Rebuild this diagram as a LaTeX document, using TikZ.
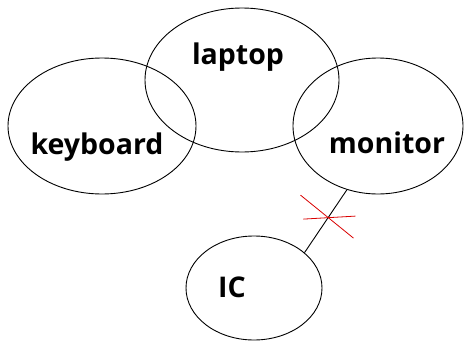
\documentclass[tikz,border=0pt]{standalone}
\usepackage{fontspec}
\setmainfont{Open Sans}
\usetikzlibrary{shapes.geometric,calc}
\begin{document}
\begin{tikzpicture}[x=1pt,y=-1pt,
  ent/.style={draw=black,line width=0.9pt,ellipse,inner sep=0pt},
  lbl/.style={font=\fontsize{28.5}{30}\selectfont\bfseries,inner sep=0pt},
  link/.style={draw=black,line width=0.9pt},
  crossln/.style={draw=red!85!black,line width=0.8pt}]
\useasboundingbox (0,0) rectangle (464,343);
\node[ent,minimum width=188pt,minimum height=136pt] (kb) at (102,126) {};
\node[ent,minimum width=194pt,minimum height=144pt] (lap) at (242,80) {};
\node[ent,minimum width=170pt,minimum height=136pt] (mon) at (378,126) {};
\node[ent,minimum width=136pt,minimum height=104pt] (ic) at (254,288) {};
\node[lbl] (tkb) at (97,147) {keyboard};
\node[lbl] (tlap) at (238,57) {laptop};
\node[lbl] (tmon) at (387,143) {monitor};
\node[lbl] (tic) at (232,287) {IC};
\draw[link] (mon.244) -- (ic.35);
\coordinate (x) at ($(mon.244)!0.435!(ic.35)$);
\draw[crossln] ($(x)+(-25,2)$) -- ($(x)+(27,-1)$);
\draw[crossln] ($(x)+(-28,-22)$) -- ($(x)+(25,21)$);
\end{tikzpicture}
\end{document}
